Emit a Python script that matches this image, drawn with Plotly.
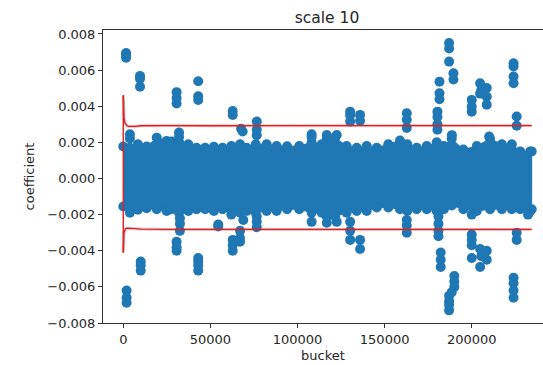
import plotly.graph_objects as go

# ---- data ----
band_bucket = [0, 3800, 8400, 13400, 19200, 24900, 27800, 32000, 37300, 42000, 47000, 52000,
               57000, 62000, 67000, 70800, 76000, 82300, 88000, 94000, 101000, 108100, 113900,
               116800, 121600, 128200, 134000, 139700, 145500, 152100, 158800, 163000, 168400,
               174200, 179900, 184000, 188500, 195200, 202900, 210500, 217300, 223000, 227800,
               233600, 234400]
band_upper = [0.00177, 0.0017, 0.0019, 0.00177, 0.00226, 0.00208, 0.00205, 0.0020, 0.0019, 0.0017,
              0.0017, 0.00175, 0.0017, 0.0018, 0.0019, 0.0017, 0.0019, 0.0019, 0.0018, 0.00178,
              0.0018, 0.0020, 0.0019, 0.00225, 0.00225, 0.0018, 0.0017, 0.0018, 0.0017, 0.0019,
              0.0021, 0.0019, 0.0017, 0.0018, 0.0020, 0.0018, 0.0022, 0.0016, 0.0018, 0.0022,
              0.0019, 0.0019, 0.0015, 0.0015, 0.0015]
band_lower = [-0.00155, -0.0019, -0.00173, -0.00165, -0.0017, -0.0018, -0.0017, -0.0019, -0.0018,
              -0.0017, -0.0017, -0.0018, -0.0017, -0.0020, -0.0019, -0.0018, -0.0019, -0.0018,
              -0.0018, -0.0017, -0.0017, -0.0019, -0.0019, -0.0021, -0.0021, -0.0019, -0.0018,
              -0.0018, -0.0016, -0.0016, -0.0017, -0.0018, -0.0017, -0.0017, -0.0018, -0.0017,
              -0.0015, -0.0017, -0.0018, -0.0017, -0.0017, -0.0017, -0.0017, -0.0018, -0.0017]

out_bucket = [1600, 1600, 1600, 3800, 3800, 9600, 9600, 9600, 30600, 30600, 30600, 32000, 32000,
              43000, 43000, 43000, 62800, 62800, 67600, 68500, 76600, 76600, 76600, 108100, 108100,
              116800, 122500, 130200, 130200, 130200, 135900, 135900, 162700, 162700, 162700,
              181500, 181500, 181500, 180300, 180300, 180300, 180300, 187000, 187000, 187000,
              189500, 189500, 188600, 200000, 200000, 200000, 204800, 204800, 205500, 208600,
              208600, 208600, 210000, 224000, 224000, 224000, 224000, 225800, 225800,
              1900, 1900, 1900, 10000, 10000, 10000, 30600, 30600, 30600, 32500, 32500, 32500,
              43000, 43000, 43000, 43000, 54500, 54500, 62800, 62800, 62800, 67000, 67000, 67000,
              68900, 76600, 76600, 76600, 108100, 116800, 122500, 130200, 130200, 130200,
              135900, 135900, 162700, 162700, 162700, 180900, 180900, 180900, 180900,
              182200, 182200, 182200, 190000, 190000, 190000, 188500, 187000, 187000, 187000,
              187000, 200000, 200000, 200000, 200000, 200000, 204800, 205500, 204800, 208600,
              208600, 224000, 224000, 224000, 224000, 225800, 225800, 232300]
out_value = [0.00695, 0.00685, 0.00668, 0.00245, 0.00222, 0.00568, 0.00552, 0.00508, 0.00478,
             0.00445, 0.00415, 0.00255, 0.0023, 0.00538, 0.00455, 0.00435, 0.00374, 0.00352,
             0.00275, 0.0026, 0.00315, 0.0027, 0.0024, 0.00245, 0.0023, 0.00241, 0.00241,
             0.0037, 0.0035, 0.00315, 0.00352, 0.0032, 0.00361, 0.00325, 0.0028,
             0.00536, 0.00472, 0.00439, 0.0037, 0.0034, 0.003, 0.0027, 0.0075, 0.0072, 0.00647,
             0.00583, 0.00548, 0.0024, 0.00435, 0.00398, 0.0037, 0.00527, 0.0047, 0.0049,
             0.00501, 0.00453, 0.00408, 0.00232, 0.00638, 0.0062, 0.00564, 0.00527, 0.00343, 0.00292,
             -0.0062, -0.0066, -0.00688, -0.0046, -0.0048, -0.0051, -0.0035, -0.0038, -0.0040,
             -0.0022, -0.0025, -0.0029, -0.0044, -0.0046, -0.0048, -0.0051, -0.00255, -0.00266,
             -0.0034, -0.0037, -0.0040, -0.0029, -0.0033, -0.0035, -0.0023, -0.0021, -0.0024,
             -0.0027, -0.0024, -0.00245, -0.0024, -0.0024, -0.0029, -0.0034, -0.0034, -0.0039,
             -0.0023, -0.0026, -0.0030, -0.0021, -0.0025, -0.0029, -0.0032, -0.0041, -0.0045,
             -0.0049, -0.0054, -0.0057, -0.0060, -0.0063, -0.0065, -0.0068, -0.0070, -0.0073,
             -0.0020, -0.0031, -0.0034, -0.0037, -0.0044, -0.0039, -0.0043, -0.0049, -0.0040,
             -0.0045, -0.0055, -0.0058, -0.0062, -0.0066, -0.0030, -0.0034, -0.0020]

red_bucket = [0, 150, 400, 800, 1300, 2000, 3000, 4500, 7000, 10000, 15000, 25000, 50000, 100000,
              150000, 200000, 234400]
red_upper = [0.0046, 0.0036, 0.0034, 0.0031, 0.0030, 0.00293, 0.00288, 0.00287, 0.00288, 0.00292,
             0.00293, 0.00293, 0.00292, 0.00293, 0.00293, 0.00293, 0.00293]
red_lower = [-0.0041, -0.0033, -0.0030, -0.0029, -0.00278, -0.00275, -0.00275, -0.00276, -0.00278,
             -0.0028, -0.00282, -0.00282, -0.00282, -0.00282, -0.00282, -0.00282, -0.00282]

y_ticks = [-0.008, -0.006, -0.004, -0.002, 0.0, 0.002, 0.004, 0.006, 0.008]
y_tick_text = ["\u22120.008", "\u22120.006", "\u22120.004", "\u22120.002", "0.000",
               "0.002", "0.004", "0.006", "0.008"]
x_ticks = [0, 50000, 100000, 150000, 200000]
x_tick_text = ["0", "50000", "100000", "150000", "200000"]

BLUE = "#1f77b4"
RED = "#d62728"
TXT = "#262626"

fig = go.Figure()

# dense band as filled region
fig.add_trace(go.Scatter(
    x=band_bucket + band_bucket[::-1], y=band_upper + band_lower[::-1],
    mode="lines", fill="toself", fillcolor=BLUE, line=dict(color=BLUE, width=1),
    hoverinfo="skip", showlegend=False))
# rounded edge of the band
fig.add_trace(go.Scatter(
    x=band_bucket + band_bucket, y=band_upper + band_lower, mode="markers",
    marker=dict(color=BLUE, size=10, line=dict(width=0)), showlegend=False))
# outliers
fig.add_trace(go.Scatter(
    x=out_bucket, y=out_value, mode="markers",
    marker=dict(color=BLUE, size=10, line=dict(width=0)), showlegend=False))

# red threshold lines
for ys in (red_upper, red_lower):
    fig.add_trace(go.Scatter(x=red_bucket, y=ys, mode="lines",
                             line=dict(color="rgba(214,39,40,0.3)", width=3),
                             showlegend=False, hoverinfo="skip"))
    fig.add_trace(go.Scatter(x=red_bucket, y=ys, mode="lines",
                             line=dict(color=RED, width=1.3), showlegend=False))
fig.add_trace(go.Scatter(x=[red_bucket[0], red_bucket[0]], y=[red_lower[0], red_upper[0]],
                         mode="lines", line=dict(color=RED, width=1.5), showlegend=False))

fig.update_layout(
    width=543, height=365,
    margin=dict(l=103, r=0, t=30, b=42),
    paper_bgcolor="white", plot_bgcolor="white",
    font=dict(family="DejaVu Sans", size=13, color=TXT),
    title=dict(text="scale 10", font=dict(size=15.5, color=TXT),
               x=327 / 543, xref="container", xanchor="center",
               y=1 - 17.5 / 365, yref="container", yanchor="middle"),
    showlegend=False,
)
fig.update_xaxes(range=[-11650, 240900], tickvals=x_ticks, ticktext=x_tick_text,
                 tickfont=dict(size=13, color=TXT),
                 showgrid=False, zeroline=False, showline=True, linecolor="#333333",
                 linewidth=1, mirror=True, ticks="outside", ticklen=4, tickcolor="#333333",
                 title=dict(text="bucket", standoff=5, font=dict(size=13, color=TXT)))
fig.update_yaxes(range=[-0.008, 0.00822], tickvals=y_ticks, ticktext=y_tick_text,
                 tickfont=dict(size=13, color=TXT),
                 showgrid=False, zeroline=False, showline=True, linecolor="#333333",
                 linewidth=1, mirror=False, ticks="outside", ticklen=4, tickcolor="#333333",
                 title=dict(text="coefficient", standoff=9, font=dict(size=13, color=TXT)))

fig.write_html("out.html")
